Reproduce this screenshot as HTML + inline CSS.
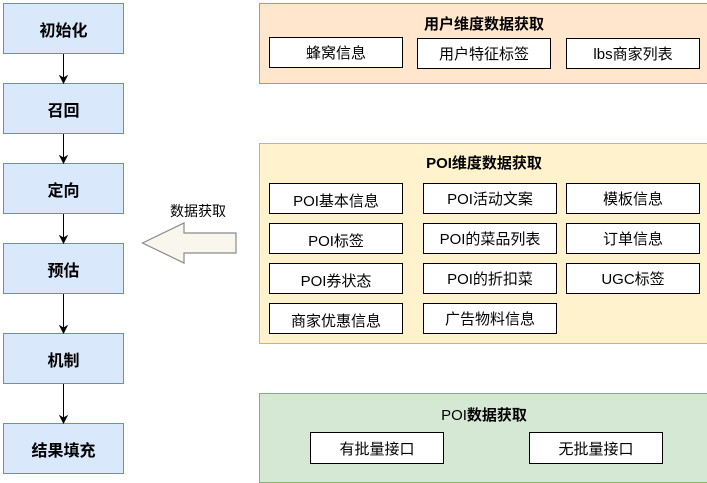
<!DOCTYPE html>
<html><head><meta charset="utf-8"><style>
body{margin:0;width:707px;height:471px;background:#fff;position:relative;overflow:hidden;font-family:"Liberation Sans","Noto Sans CJK SC",sans-serif;}
div{position:absolute;box-sizing:border-box;}
.l{left:3px;width:121px;height:51px;background:#dae8fc;border:1px solid #6c8ebf;font-weight:bold;font-size:16px;display:flex;align-items:center;justify-content:center;color:#000;}
.p{border:1px solid;}
.b{background:#fff;border:1px solid #000;height:31px;font-size:15px;display:flex;align-items:center;justify-content:center;color:#000;}
.t{font-size:15px;font-weight:bold;text-align:center;width:100%;left:0;}
</style></head><body>
<div class="l" style="top:3px">初始化</div>
<div class="l" style="top:83px">召回</div>
<div class="l" style="top:163px">定向</div>
<div class="l" style="top:243px">预估</div>
<div class="l" style="top:333px">机制</div>
<div class="l" style="top:423px">结果填充</div>
<svg width="707" height="471" style="position:absolute;left:0;top:0">
<g stroke="#000" fill="#000">
<line x1="63.5" y1="54" x2="63.5" y2="78"/><path d="M60 76 L63.5 83 L67 76 L63.5 78Z"/>
<line x1="63.5" y1="134" x2="63.5" y2="158"/><path d="M60 156 L63.5 163 L67 156 L63.5 158Z"/>
<line x1="63.5" y1="214" x2="63.5" y2="238"/><path d="M60 236 L63.5 243 L67 236 L63.5 238Z"/>
<line x1="63.5" y1="294" x2="63.5" y2="328"/><path d="M60 326 L63.5 333 L67 326 L63.5 328Z"/>
<line x1="63.5" y1="384" x2="63.5" y2="418"/><path d="M60 416 L63.5 423 L67 416 L63.5 418Z"/>
</g>
<path d="M142.5 243 L184 223 L184 233 L236 233 L236 253 L184 253 L184 263 Z" fill="#f9f7ed" stroke="#8a8a8a" stroke-width="1.2"/>
<text x="198" y="216" font-size="14" text-anchor="middle" font-family="Liberation Sans, Noto Sans CJK SC, sans-serif">数据获取</text>
</svg>
<div class="p" style="left:259px;top:3px;width:460px;height:81px;background:#ffe6cc;border-color:#d79b00">
<div class="t" style="top:9px;width:448px">用户维度数据获取</div></div>
<div class="b" style="left:269px;top:37px;width:134px">蜂窝信息</div>
<div class="b" style="left:417px;top:38px;width:134px">用户特征标签</div>
<div class="b" style="left:566px;top:38px;width:134px">lbs商家列表</div>

<div class="p" style="left:259px;top:143px;width:460px;height:201px;background:#fff2cc;border-color:#d6b656">
<div class="t" style="top:8px;width:448px">POI维度数据获取</div></div>
<div class="b" style="left:269px;top:183px;width:134px;padding-top:4px">POI基本信息</div>
<div class="b" style="left:423px;top:183px;width:134px">POI活动文案</div>
<div class="b" style="left:566px;top:183px;width:134px">模板信息</div>
<div class="b" style="left:269px;top:223px;width:134px;padding-top:4px">POI标签</div>
<div class="b" style="left:423px;top:223px;width:134px">POI的菜品列表</div>
<div class="b" style="left:566px;top:223px;width:134px">订单信息</div>
<div class="b" style="left:269px;top:263px;width:134px;padding-top:4px">POI券状态</div>
<div class="b" style="left:423px;top:263px;width:134px">POI的折扣菜</div>
<div class="b" style="left:566px;top:263px;width:134px">UGC标签</div>
<div class="b" style="left:269px;top:303px;width:134px;padding-top:4px">商家优惠信息</div>
<div class="b" style="left:423px;top:303px;width:134px">广告物料信息</div>

<div class="p" style="left:259px;top:393px;width:460px;height:90px;background:#d5e8d4;border-color:#82b366">
<div class="t" style="top:10px;width:448px;font-weight:normal">POI<b>数据获取</b></div></div>
<div class="b" style="left:310px;top:432px;width:134px;height:32px">有批量接口</div>
<div class="b" style="left:529px;top:432px;width:134px;height:32px">无批量接口</div>
</body></html>
